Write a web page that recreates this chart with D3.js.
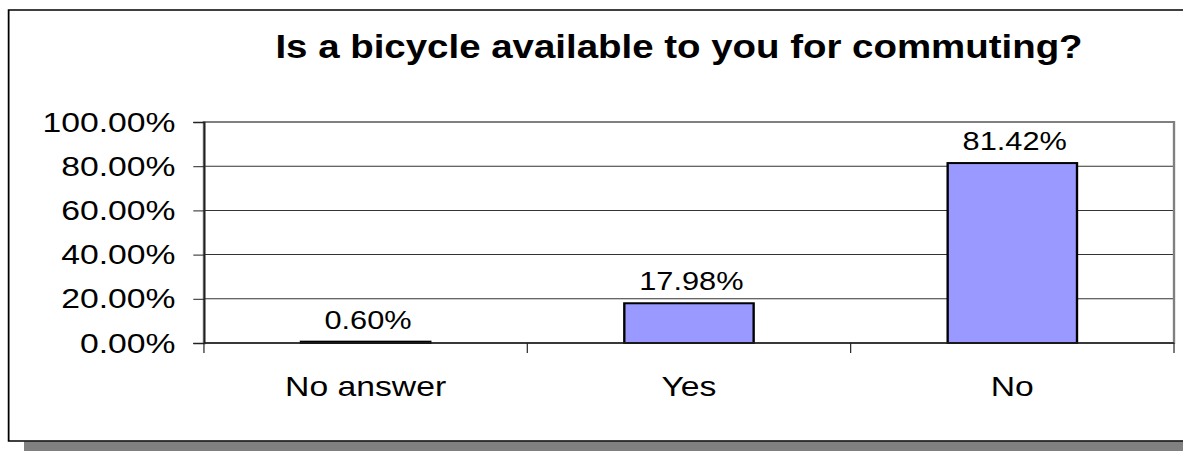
<!DOCTYPE html>
<html>
<head>
<meta charset="utf-8">
<script src="https://cdn.jsdelivr.net/npm/d3@7"></script>
<style>
  html, body { margin: 0; padding: 0; background: #fff; }
  text { font-family: "Liberation Sans", Arial, sans-serif; }
</style>
</head>
<body>
<div id="chart"></div>
<script>
// data
const categories = ["No answer", "Yes", "No"];
const shares = [0.0060, 0.1798, 0.8142];
const yTicks = [0, 0.2, 0.4, 0.6, 0.8, 1.0];
const title = "Is a bicycle available to you for commuting?";

// dimensions (drawn in a narrower box, then stretched to the window like the original)
const dimensions = {
    width: 1000,
    height: 451,
    outWidth: 1183,
    margin: { top: 122, right: 7.6, bottom: 108, left: 172.4 },
};
dimensions.boundedWidth = dimensions.width - dimensions.margin.left - dimensions.margin.right;
dimensions.boundedHeight = dimensions.height - dimensions.margin.top - dimensions.margin.bottom;

const svg = d3.select("#chart")
    .append("svg")
    .attr("width", dimensions.outWidth)
    .attr("height", dimensions.height)
    .attr("viewBox", `0 0 ${dimensions.width} ${dimensions.height}`)
    .attr("preserveAspectRatio", "none")
    .style("display", "block");

// frame + shadow
svg.append("rect")
    .attr("x", 20.3).attr("y", 441.5)
    .attr("width", 1000).attr("height", 12)
    .attr("fill", "#808080");
svg.append("rect")
    .attr("x", 7.3).attr("y", 10)
    .attr("width", 1000).attr("height", 431)
    .attr("fill", "#fff")
    .attr("stroke", "#000")
    .attr("stroke-width", 1.5);

// title
svg.append("text")
    .attr("x", 574)
    .attr("y", 58)
    .attr("text-anchor", "middle")
    .style("font-size", "32.5px")
    .style("font-weight", "bold")
    .text(title);

// scales
const x = d3.scaleBand()
    .domain(categories)
    .range([0, dimensions.boundedWidth]);

const y = d3.scaleLinear()
    .domain([0, 1])
    .range([dimensions.boundedHeight, 0]);

const bounds = svg.append("g")
    .attr("transform", `translate(${dimensions.margin.left}, ${dimensions.margin.top})`);

// gridlines
bounds.selectAll("line.grid")
    .data(yTicks.slice(1))
    .join("line")
    .attr("class", "grid")
    .attr("x1", 0).attr("x2", dimensions.boundedWidth)
    .attr("y1", d => y(d)).attr("y2", d => y(d))
    .attr("stroke", "#333")
    .attr("stroke-width", 1);

// plot area border
bounds.append("rect")
    .attr("width", dimensions.boundedWidth)
    .attr("height", dimensions.boundedHeight)
    .attr("fill", "none")
    .attr("stroke", "#808080")
    .attr("stroke-width", 2);

// bars
const barWidth = x.bandwidth() * 0.4;
bounds.selectAll("rect.bar")
    .data(shares)
    .join("rect")
    .attr("class", "bar")
    .attr("x", (d, i) => x(categories[i]) + (x.bandwidth() - barWidth) / 2)
    .attr("y", d => y(d))
    .attr("width", barWidth)
    .attr("height", d => y(0) - y(d))
    .attr("fill", "#9999ff")
    .attr("stroke", "#000")
    .attr("stroke-width", 2);

// value labels
bounds.selectAll("text.value")
    .data(shares)
    .join("text")
    .attr("class", "value")
    .attr("x", (d, i) => x(categories[i]) + x.bandwidth() / 2 + 2)
    .attr("y", d => y(d) - 13)
    .attr("text-anchor", "middle")
    .style("font-size", "26px")
    .text(d => d3.format(".2%")(d));

// y axis
const yAxis = d3.axisLeft(y)
    .tickValues(yTicks)
    .tickFormat(d3.format(".2%"))
    .tickSize(9)
    .tickPadding(15);

bounds.append("g")
    .call(yAxis)
    .call(g => g.select(".domain").attr("stroke", "#222").attr("stroke-width", 1.6))
    .call(g => g.selectAll(".tick line").attr("stroke", "#222"))
    .call(g => g.selectAll(".tick text")
        .attr("fill", "#000")
        .style("font-size", "28.5px")
        .style("font-family", "Liberation Sans, Arial, sans-serif"));

// x axis: separators between categories
const sepX = categories.map(c => x(c)).concat([dimensions.boundedWidth]);
const xAxisG = bounds.append("g")
    .attr("transform", `translate(0, ${dimensions.boundedHeight})`);

xAxisG.append("line")
    .attr("x1", 0).attr("x2", dimensions.boundedWidth)
    .attr("stroke", "#222")
    .attr("stroke-width", 1.6);

xAxisG.selectAll("line.sep")
    .data(sepX)
    .join("line")
    .attr("class", "sep")
    .attr("x1", d => d).attr("x2", d => d)
    .attr("y1", 0).attr("y2", 10)
    .attr("stroke", "#222");

xAxisG.selectAll("text.cat")
    .data(categories)
    .join("text")
    .attr("class", "cat")
    .attr("x", d => x(d) + x.bandwidth() / 2)
    .attr("y", 53)
    .attr("text-anchor", "middle")
    .style("font-size", "28.5px")
    .text(d => d);
</script>
</body>
</html>
